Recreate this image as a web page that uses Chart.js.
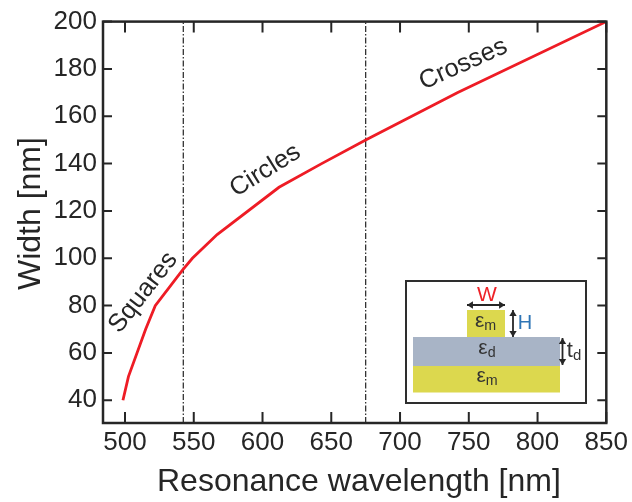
<!DOCTYPE html>
<html><head><meta charset="utf-8">
<script src="https://cdn.jsdelivr.net/npm/chart.js@4/dist/chart.umd.min.js"></script>
<style>html,body{margin:0;padding:0;background:#fff}canvas{display:block}</style>
</head><body><canvas id="c" width="632" height="502"></canvas>
<script>
const wavelengths = [498.5,502.5,515,522,541.8,549,567,612,643,675,742,850];
const widths      = [40,50,70,80,95,100,110,130,140,150,170,200];
const boundaries  = [542.4,675];
const xRange = [484,850], yRange = [30.4,200];
const xTitle = 'Resonance wavelength [nm]', yTitle = 'Width [nm]';
const regionNames = ['Squares','Circles','Crosses'];
const regionX = [513.3,602,746];
const regionY = [85.5,137,182];
const regionAngle = [-52,-32,-24];

const ink = '#262626';
const FONT = '"Liberation Sans", Arial, sans-serif';

function arrow(ctx,x1,y1,x2,y2){
  const a=Math.atan2(y2-y1,x2-x1), h=7;
  ctx.strokeStyle=ctx.fillStyle=ink; ctx.lineWidth=1.8;
  ctx.beginPath();ctx.moveTo(x1,y1);ctx.lineTo(x2,y2);ctx.stroke();
  [[x1,y1,a+Math.PI],[x2,y2,a]].forEach(([x,y,t])=>{
    ctx.beginPath();ctx.moveTo(x,y);
    ctx.lineTo(x-h*Math.cos(t-0.55),y-h*Math.sin(t-0.55));
    ctx.lineTo(x-h*Math.cos(t+0.55),y-h*Math.sin(t+0.55));
    ctx.closePath();ctx.fill();
  });
}
function sub(ctx,main,s,cx,base,size,color){
  const r=0.68;
  ctx.fillStyle=color||'#333';ctx.textAlign='left';ctx.textBaseline='alphabetic';
  ctx.font=size+'px '+FONT;const w1=ctx.measureText(main).width;
  ctx.font=(size*r)+'px '+FONT;const w2=ctx.measureText(s).width;
  const x=cx-(w1+w2)/2;
  ctx.font=size+'px '+FONT;ctx.fillText(main,x,base);
  ctx.font=(size*r)+'px '+FONT;ctx.fillText(s,x+w1,base+3);
}
const frame = {
  id:'frame',
  afterDatasetsDraw(chart){
    const {ctx,chartArea:a,scales:{x,y}}=chart;
    ctx.save();
    ctx.strokeStyle=ink;ctx.lineWidth=2.5;
    ctx.strokeRect(a.left,a.top,a.right-a.left,a.bottom-a.top);
    ctx.lineWidth=2;
    ctx.beginPath();
    x.ticks.forEach(t=>{const p=x.getPixelForValue(t.value);
      ctx.moveTo(p,a.bottom);ctx.lineTo(p,a.bottom-11);
      ctx.moveTo(p,a.top);ctx.lineTo(p,a.top+11);});
    y.ticks.forEach(t=>{const p=y.getPixelForValue(t.value);
      ctx.moveTo(a.left,p);ctx.lineTo(a.left+9,p);
      ctx.moveTo(a.right,p);ctx.lineTo(a.right-9,p);});
    ctx.stroke();
    // axis titles
    ctx.fillStyle=ink;ctx.font='32px '+FONT;ctx.textAlign='left';ctx.textBaseline='alphabetic';
    ctx.fillText(xTitle,157,490.5);
    ctx.save();ctx.translate(39.5,290);ctx.rotate(-Math.PI/2);ctx.fillText(yTitle,0,0);ctx.restore();
    // region labels
    ctx.font='25.5px '+FONT;ctx.textAlign='center';ctx.textBaseline='middle';
    regionNames.forEach((n,i)=>{
      ctx.save();
      ctx.translate(x.getPixelForValue(regionX[i]),y.getPixelForValue(regionY[i]));
      ctx.rotate(regionAngle[i]*Math.PI/180);
      ctx.fillText(n,0,0);ctx.restore();
    });
    // inset schematic
    ctx.fillStyle='#fff';ctx.fillRect(406,281,180,122);
    ctx.strokeStyle='#2e2e2e';ctx.lineWidth=2;ctx.strokeRect(406,281,180,122);
    ctx.fillStyle='#DCD84E';ctx.fillRect(467,310,38,27);
    ctx.fillStyle='#A8B4C6';ctx.fillRect(413,337,147,29);
    ctx.fillStyle='#DCD84E';ctx.fillRect(413,366,147,26.5);
    arrow(ctx,467,305,505,305);
    arrow(ctx,513,310,513,337);
    arrow(ctx,562.5,338,562.5,365);
    ctx.textAlign='center';ctx.textBaseline='alphabetic';
    ctx.font='21px '+FONT;ctx.fillStyle='#EE2227';ctx.fillText('W',487,300.5);
    ctx.font='20px '+FONT;ctx.fillStyle='#2E75B6';ctx.fillText('H',525,329);
    sub(ctx,'ε','m',485.5,326.5,21);
    sub(ctx,'ε','d',487,354,21);
    sub(ctx,'ε','m',487,381.5,21);
    sub(ctx,'t','d',574,356.5,22);
    ctx.restore();
  }
};
new Chart(document.getElementById('c'),{
  type:'scatter',
  data:{datasets:[
    {data:wavelengths.map((v,i)=>({x:v,y:widths[i]})),showLine:true,borderColor:'#EE1C25',borderWidth:2.8,pointRadius:0,tension:0,order:1},
    ...boundaries.map(b=>({data:[{x:b,y:yRange[0]},{x:b,y:yRange[1]}],showLine:true,borderColor:'#333',borderWidth:1.3,borderDash:[6,2,1.5,2],pointRadius:0,order:2}))
  ]},
  options:{
    responsive:false,animation:false,
    layout:{padding:{left:0,right:23.3,top:17,bottom:0}},
    plugins:{legend:{display:false},tooltip:{enabled:false}},
    scales:{
      x:{type:'linear',min:xRange[0],max:xRange[1],
        grid:{display:false,drawTicks:false},border:{display:false},
        ticks:{stepSize:50,includeBounds:false,maxRotation:0,autoSkip:false,color:ink,font:{family:FONT,size:26},padding:4},
        afterFit(s){s.height=79;}},
      y:{type:'linear',min:yRange[0],max:yRange[1],
        grid:{display:false,drawTicks:false},border:{display:false},
        ticks:{stepSize:20,includeBounds:false,autoSkip:false,color:ink,font:{family:FONT,size:26},padding:6},
        afterFit(s){s.width=103;}}
    }
  },
  plugins:[frame]
});
</script></body></html>
